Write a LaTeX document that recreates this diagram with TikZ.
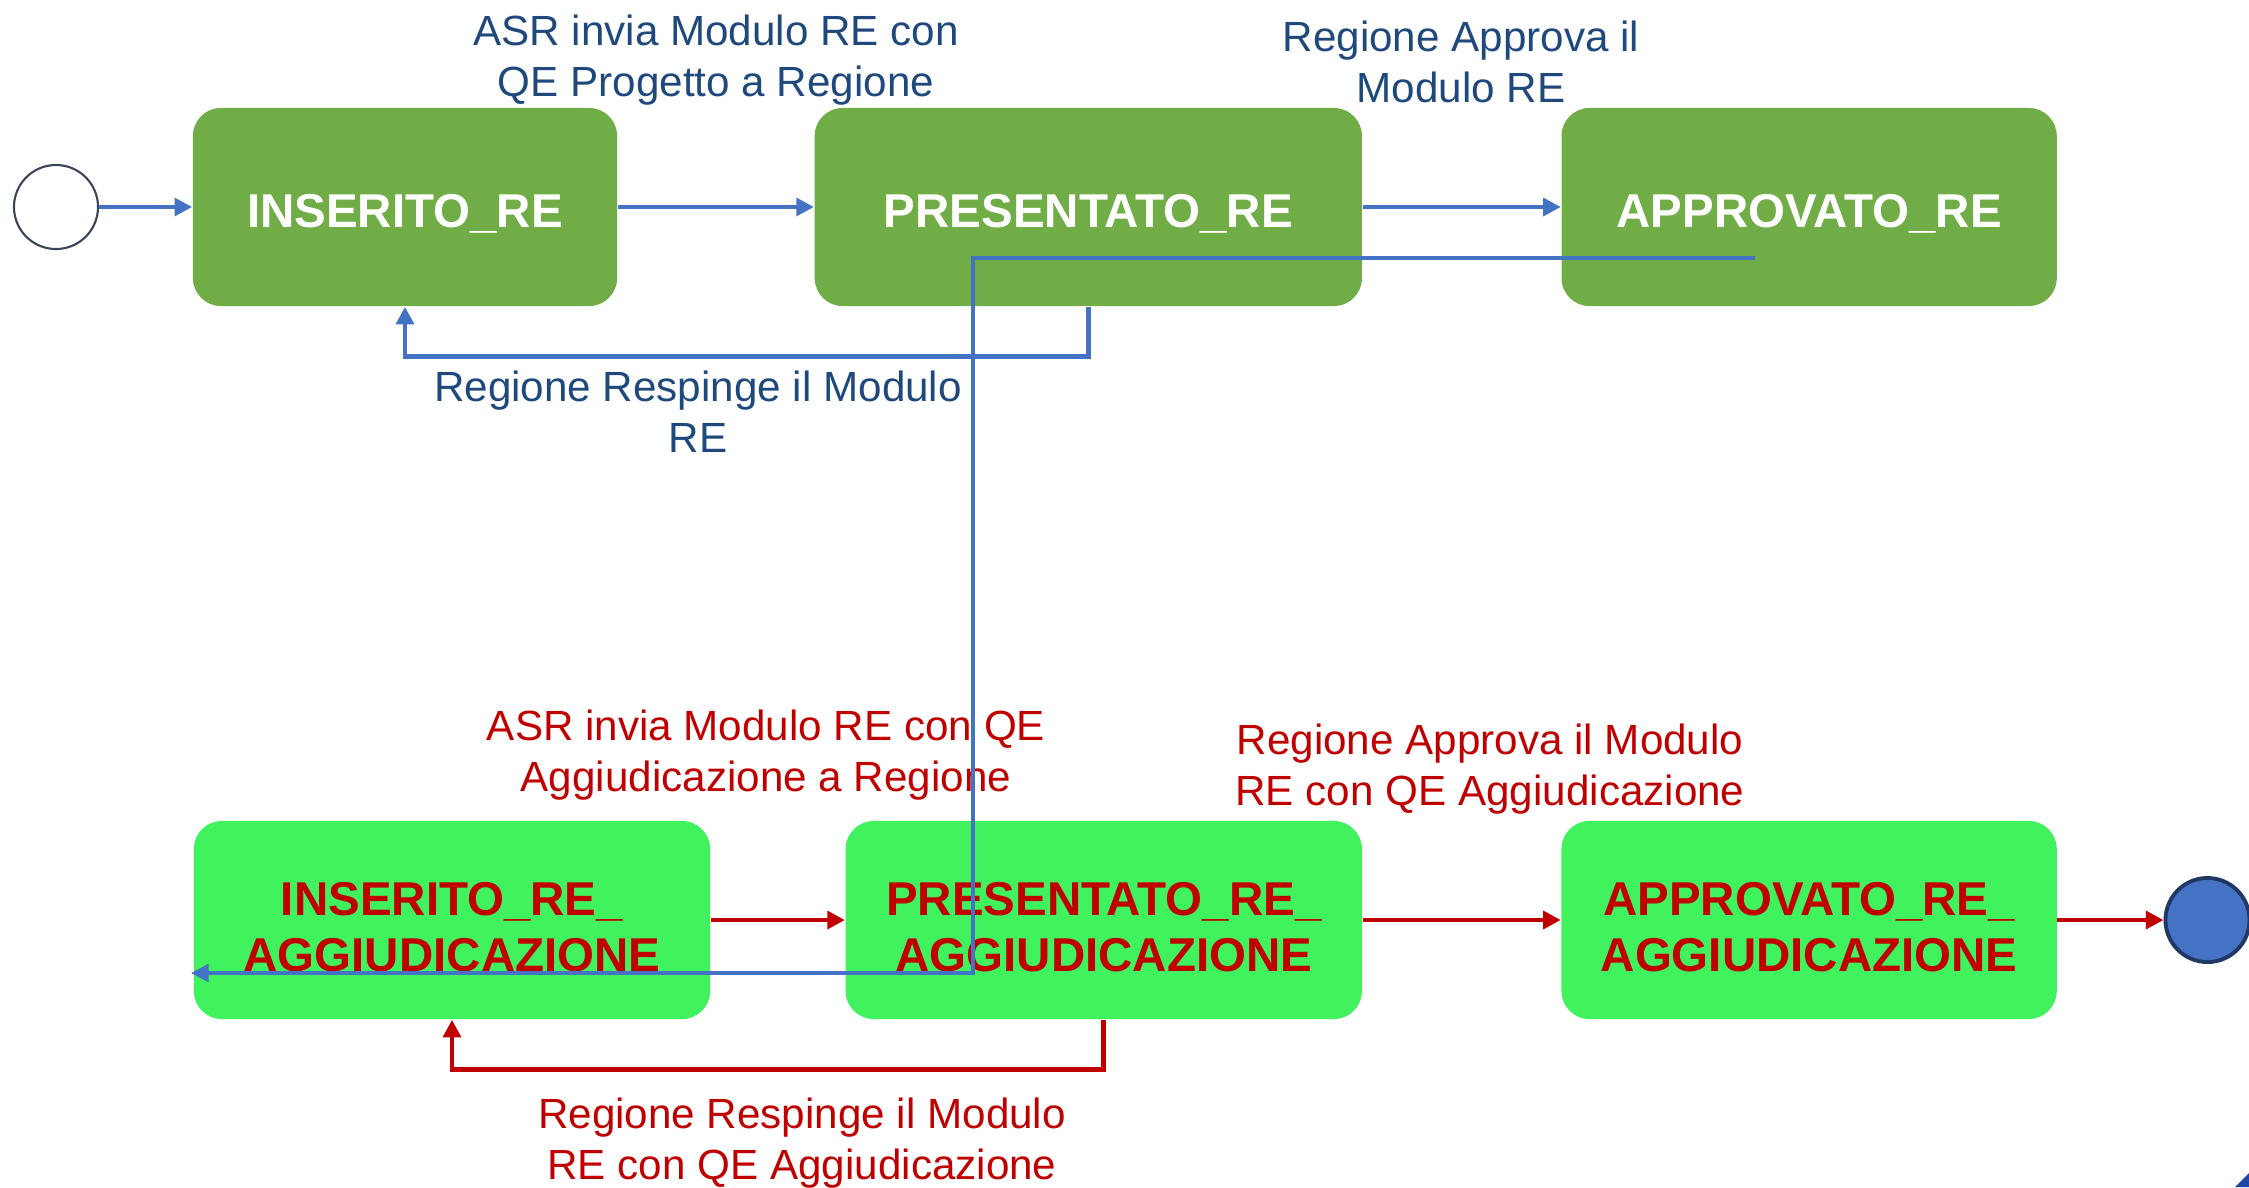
\documentclass[tikz,border=0pt]{standalone}
\usepackage{fontspec}
\setmainfont{Liberation Sans}
\usepackage{tikz}
\usetikzlibrary{positioning, arrows.meta}

\definecolor{stategreen}{RGB}{112,173,71}
\definecolor{aggreen}{RGB}{64,242,94}
\definecolor{flowblue}{RGB}{68,114,196}
\definecolor{labelblue}{RGB}{31,73,125}
\definecolor{flowred}{RGB}{192,0,0}
\definecolor{startgray}{RGB}{59,69,90}
\definecolor{endnavy}{RGB}{31,56,100}
\definecolor{cornerblue}{RGB}{30,70,170}

\begin{document}
\begin{tikzpicture}
[x=0.01cm, y=-0.01cm,
topnode/.style={rectangle, rounded corners=0.28cm, fill=stategreen, text=white, minimum height=1.98cm, inner sep=0pt, align=center, text height=0.46cm, font=\fontsize{13.5}{15.9}\selectfont\bfseries},
aggnode/.style={rectangle, rounded corners=0.28cm, fill=aggreen, text=flowred, minimum height=1.98cm, inner sep=0pt, align=center, text height=1.03cm, font=\fontsize{13.5}{15.9}\selectfont\bfseries},
startnode/.style={circle, draw=startgray, fill=white, line width=0.6pt, minimum size=0.84cm, inner sep=0pt},
endnode/.style={circle, draw=endnavy, fill=flowblue, line width=1.1pt, minimum size=0.84cm, inner sep=0pt},
bluelabel/.style={text=labelblue, align=center, inner sep=0pt, font=\fontsize{12}{14.5}\selectfont},
redlabel/.style={text=flowred, align=center, inner sep=0pt, font=\fontsize{12}{14.5}\selectfont},
blueline/.style={draw=flowblue, line width=1.4pt, -{Triangle[length=5pt, width=5pt]}},
redline/.style={draw=flowred, line width=1.4pt, -{Triangle[length=5pt, width=5pt]}},
]
\useasboundingbox (0,0) rectangle (2249,1187);

% first round: RE with QE Progetto
\node[startnode] (start) at (56,207) {};
\node[topnode, minimum width=4.24cm] (ins) at (405,207) {INSERITO\_RE};
\node[topnode, minimum width=5.47cm] (pre) [right=1.96cm of ins] {PRESENTATO\_RE};
\node[topnode, minimum width=4.95cm] (app) [right=1.98cm of pre] {APPROVATO\_RE};

% second round: RE with QE Aggiudicazione
\node[aggnode, minimum width=5.16cm] (insagg) at (452,920) {INSERITO\_RE\_\\AGGIUDICAZIONE};
\node[aggnode, minimum width=5.16cm] (preagg) [right=1.34cm of insagg] {PRESENTATO\_RE\_\\AGGIUDICAZIONE};
\node[aggnode, minimum width=4.95cm] (appagg) [right=1.98cm of preagg] {APPROVATO\_RE\_\\AGGIUDICAZIONE};
\node[endnode] (end) [right=1.06cm of appagg] {};

% labels
\node[bluelabel] (lins) at (716,60) {ASR invia Modulo RE con\\QE Progetto a Regione};
\node[bluelabel] (lapp) at (1461,62) {Regione Approva il\\Modulo RE};
\node[bluelabel] (lrej) at (698,412) {Regione Respinge il Modulo\\RE};
\node[redlabel] (linsagg) at (766,755) {ASR invia Modulo RE con QE\\Aggiudicazione a Regione};
\node[redlabel] (lappagg) at (1490,769) {Regione Approva il Modulo\\RE con QE Aggiudicazione};
\node[redlabel] (lrejagg) at (802,1143) {Regione Respinge il Modulo\\RE con QE Aggiudicazione};

\draw[blueline] (start) -- (ins);
\draw[blueline] (ins) -- (pre);
\draw[blueline] (pre) -- (app);
\draw[blueline] (pre.south) -- ++(0,50) -| (ins.south);

\draw[redline] (insagg) -- (preagg);
\draw[redline] (preagg) -- (appagg);
\draw[redline] (appagg) -- (end);
\draw[redline] (preagg.south) -- ++(0,50) -| (insagg.south);

% link from the first round down to the second
\coordinate (jstart) at (1755,258);
\coordinate (jcorner) at (973,973);
\coordinate (jend) at (191,973);
\draw[blueline, line width=1.1pt] (jstart) -| (jcorner) -- (jend);

\fill[cornerblue] (2235,1187) -- (2249,1173) -- (2249,1187) -- cycle;
\end{tikzpicture}
\end{document}
